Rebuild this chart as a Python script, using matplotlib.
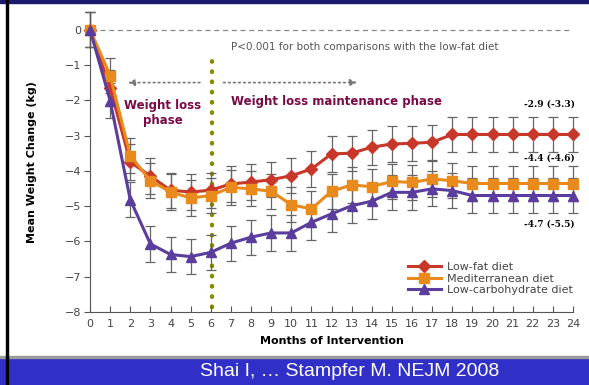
import matplotlib.pyplot as plt
from matplotlib.patches import Rectangle

months = list(range(25))
low_fat = [0, -1.65, -3.75, -4.15, -4.55, -4.6, -4.55, -4.37, -4.32, -4.25, -4.14,
           -3.95, -3.52, -3.5, -3.33, -3.24, -3.22, -3.19, -2.97, -2.97, -2.97,
           -2.97, -2.97, -2.97, -2.97]
mediterranean = [0, -1.3, -3.57, -4.28, -4.6, -4.77, -4.7, -4.47, -4.51, -4.58, -4.96,
                 -5.08, -4.58, -4.4, -4.45, -4.3, -4.33, -4.23, -4.28, -4.36, -4.36,
                 -4.36, -4.36, -4.36, -4.36]
low_carb = [0, -2.01, -4.82, -6.07, -6.37, -6.43, -6.31, -6.05, -5.88, -5.76, -5.76,
            -5.46, -5.22, -4.99, -4.86, -4.61, -4.61, -4.51, -4.56, -4.7, -4.7,
            -4.7, -4.7, -4.7, -4.7]
err_low_fat = [0.5] * 25
err_med = [0.5] * 25
err_carb = [0.5] * 25
series_names = ["Low-fat diet", "Mediterranean diet", "Low-carbohydrate diet"]
end_labels = ["-2.9 (-3.3)", "-4.4 (-4.6)", "-4.7 (-5.5)"]
end_label_y = [-2.1, -3.65, -5.5]

fig = plt.figure(figsize=(5.89, 3.85), dpi=100)

# slide decorations
fig.patches.append(Rectangle((0, 0), 1, 27 / 385, transform=fig.transFigure,
                             color="#3030c8", zorder=0))
fig.patches.append(Rectangle((0, 27 / 385), 1, 2 / 385, transform=fig.transFigure,
                             color="#9a9a9a", zorder=0))
fig.patches.append(Rectangle((0, 1 - 3 / 385), 1, 3 / 385, transform=fig.transFigure,
                             color="#1c1c6e", zorder=0))
fig.patches.append(Rectangle((6 / 589, 0), 2 / 589, 1, transform=fig.transFigure,
                             color="black", zorder=1))
fig.text(0.593, 0.036, "Shai I, \u2026 Stampfer M. NEJM 2008", color="white",
         fontsize=14, family="Liberation Sans", ha="center", va="center")

ax = fig.add_axes([90 / 589, 73 / 385, 483 / 589, 300 / 385])
ax.set_xlim(0, 24)
ax.set_ylim(-8, 0.5)

colors = ["#c8382a", "#e88a1c", "#5a3d9c"]
markers = ["D", "s", "^"]
msizes = [6.5, 6.5, 7]
for data, err, c, m, ms, name in zip([low_fat, mediterranean, low_carb],
                                     [err_low_fat, err_med, err_carb],
                                     colors, markers, msizes, series_names):
    ax.errorbar(months, data, yerr=err, fmt="none", ecolor="#666666",
                elinewidth=0.9, capsize=3.5, capthick=0.9, clip_on=False, zorder=2)
    ax.plot(months, data, color=c, marker=m, ms=ms, lw=2.2, label=name,
            clip_on=False, zorder=3)

ax.axhline(0, xmin=0.02, xmax=1.0, color="#888888", ls=(0, (4, 3)), lw=0.9, zorder=1)
ax.axvline(6.05, ymin=0.016, ymax=0.845, color="#8a8a00", ls=(0, (0.1, 2.2)),
           lw=3.2, dash_capstyle="round", zorder=1)

ax.annotate("", xy=(1.75, -1.5), xytext=(6.5 - 0.9, -1.5),
            arrowprops=dict(arrowstyle="-|>", ls=(0, (1, 2)), color="#777777", lw=1.2))
ax.annotate("", xy=(13.4, -1.5), xytext=(6.5, -1.5),
            arrowprops=dict(arrowstyle="-|>", ls=(0, (1, 2)), color="#777777", lw=1.2))

maroon = "#7a0a46"
ax.text(3.6, -2.35, "Weight loss\nphase", color=maroon, fontsize=8.5, fontweight="bold",
        ha="center", va="center", linespacing=1.2)
ax.text(7.0, -2.05, "Weight loss maintenance phase", color=maroon, fontsize=8.5,
        fontweight="bold", ha="left", va="center")
ax.text(7.0, -0.5, "P<0.001 for both comparisons with the low-fat diet",
        color="#555555", fontsize=7.5, ha="left", va="center")

for lbl, y in zip(end_labels, end_label_y):
    ax.text(24.1, y, lbl, fontsize=6.5, fontweight="bold", family="DejaVu Serif",
            ha="right", va="center")

for s in ["top", "right"]:
    ax.spines[s].set_visible(False)
for s in ["left", "bottom"]:
    ax.spines[s].set_color("#555555")
ax.set_xticks(months)
ax.set_yticks(range(-8, 1))
ax.set_yticklabels(["\u2212%d" % -v if v else "0" for v in range(-8, 1)])
ax.tick_params(axis="x", direction="in", length=4, colors="#555555", labelsize=8,
               labelcolor="#444444", pad=5)
ax.tick_params(axis="y", direction="out", length=4, colors="#555555", labelsize=8,
               labelcolor="#444444", pad=2)
ax.set_xlabel("Months of Intervention", fontsize=8, fontweight="bold", labelpad=5)
ax.set_ylabel("Mean Weight Change (kg)", fontsize=8, fontweight="bold", labelpad=20)

leg = ax.legend(loc="lower right", bbox_to_anchor=(1.015, 0.03), frameon=False,
                fontsize=8, handlelength=3.0, labelspacing=0.15, borderpad=0.2,
                handletextpad=0.5)
for t in leg.get_texts():
    t.set_color("#444444")

fig.savefig("out.png", dpi=100)
